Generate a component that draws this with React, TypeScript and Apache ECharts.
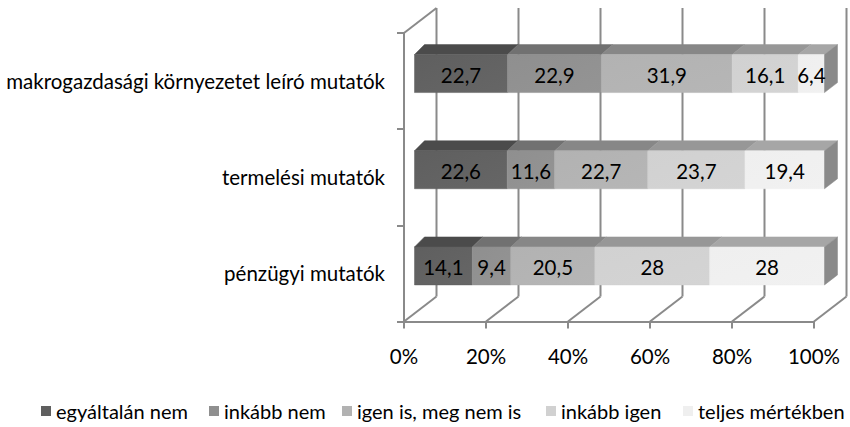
import React, { useEffect, useRef } from "react";
import * as echarts from "echarts";

const CATEGORIES = [
  "makrogazdasági környezetet leíró mutatók",
  "termelési mutatók",
  "pénzügyi mutatók",
];
const SERIES_NAMES = [
  "egyáltalán nem",
  "inkább nem",
  "igen is, meg nem is",
  "inkább igen",
  "teljes mértékben",
];
const EGYALTALAN_NEM = [22.7, 22.6, 14.1];
const INKABB_NEM = [22.9, 11.6, 9.4];
const IGEN_IS_MEG_NEM_IS = [31.9, 22.7, 20.5];
const INKABB_IGEN = [16.1, 23.7, 28];
const TELJES_MERTEKBEN = [6.4, 19.4, 28];
const X_TICKS = [0, 20, 40, 60, 80, 100];

const SERIES_VALUES = [EGYALTALAN_NEM, INKABB_NEM, IGEN_IS_MEG_NEM_IS, INKABB_IGEN, TELJES_MERTEKBEN];

const FRONT = ["#5f5f5f", "#8f8f8f", "#b2b2b2", "#d1d1d1", "#efefef"];
const FRONT2 = ["#666666", "#949494", "#b6b6b6", "#d4d4d4", "#f1f1f1"];
const TOP = ["#4b4b4b", "#717171", "#878787", "#979797", "#a6a6a6"];
const SIDE = "#8a8a8a";
const GRID_COLOR = "#8a8a8a";
const FONT = "Lato";
const FS = 20.5;
const LEGEND_FS = 20;

const LEGEND_LEFT = [41, 209, 342, 546, 683];

// 3D frame offsets
const DX = 32.5;
const DY = -25;
// bar front-face offset from front plane
const BX = 10.5;
const BY = -7.5;
const BAR_DY = -10;

const fmt = (v: number) => String(v).replace(".", ",");

export default function App() {
  const ref = useRef<HTMLDivElement>(null);
  useEffect(() => {
    if (!ref.current) return;
    const chart = echarts.init(ref.current, undefined, { renderer: "svg" });

    const cumulative: number[][] = CATEGORIES.map(() => [0]);
    SERIES_VALUES.forEach((vals) => {
      vals.forEach((v, ci) => {
        const arr = cumulative[ci];
        arr.push(arr[arr.length - 1] + v);
      });
    });

    const barSeries = SERIES_NAMES.map((name, si) => ({
      type: "custom",
      name,
      z: 3,
      itemStyle: { color: FRONT[si] },
      encode: { x: [0, 1], y: 2 },
      data: SERIES_VALUES[si].map((v, ci) => [cumulative[ci][si], cumulative[ci][si + 1], ci, v]),
      renderItem: (params: any, api: any) => {
        const start = api.value(0);
        const end = api.value(1);
        const cat = api.value(2);
        const val = api.value(3);
        const a = api.coord([start, cat]);
        const b = api.coord([end, cat]);
        const band = api.size([0, 1])[1];
        const rect = params.coordSys;
        const h = band * 0.395;
        const x0 = a[0] + BX;
        const x1 = b[0] + BX;
        const yc = a[1] + BY;
        const y0 = yc - h / 2;
        const y1 = yc + h / 2;
        const depth = (x: number) => 10 + (3 * (x - (rect.x + BX))) / rect.width;
        const d0 = depth(x0);
        const d1 = depth(x1);
        const children: any[] = [
          {
            type: "polygon",
            shape: { points: [[x0, y0], [x1, y0], [x1 + d1, y0 + BAR_DY], [x0 + d0, y0 + BAR_DY]] },
            style: { fill: TOP[si], stroke: TOP[si], lineWidth: 0.5 },
          },
          {
            type: "rect",
            shape: { x: x0, y: y0, width: x1 - x0, height: y1 - y0 },
            style: {
              fill: new echarts.graphic.LinearGradient(0, 0, 1, 1, [
                { offset: 0, color: FRONT[si] },
                { offset: 1, color: FRONT2[si] },
              ]),
              stroke: FRONT[si],
              lineWidth: 0.5,
            },
          },
        ];
        if (si === SERIES_NAMES.length - 1) {
          children.push({
            type: "polygon",
            shape: { points: [[x1, y0], [x1 + d1, y0 + BAR_DY], [x1 + d1, y1 + BAR_DY], [x1, y1]] },
            style: { fill: SIDE, stroke: SIDE, lineWidth: 0.5 },
          });
        }
        children.push({
          type: "text",
          style: {
            text: fmt(val),
            x: (x0 + x1) / 2,
            y: yc + 1,
            align: "center",
            verticalAlign: "middle",
            fill: "#000",
            fontSize: FS,
            fontFamily: FONT,
          },
        });
        return { type: "group", children };
      },
    }));

    const frameSeries = {
      type: "custom",
      name: "frame",
      z: 1,
      silent: true,
      encode: { x: 0, y: 1 },
      data: X_TICKS.map((v) => [v, 0]),
      renderItem: (params: any, api: any) => {
        const v = api.value(0);
        const rect = params.coordSys;
        const p = api.coord([v, 0]);
        const fx = p[0];
        const top = rect.y;
        const bot = rect.y + rect.height;
        const st = { stroke: GRID_COLOR, lineWidth: 2 };
        const children: any[] = [
          { type: "line", shape: { x1: fx + DX, y1: top + DY, x2: fx + DX, y2: bot + DY }, style: st },
          { type: "line", shape: { x1: fx, y1: bot, x2: fx + DX, y2: bot + DY }, style: st },
        ];
        if (v === X_TICKS[0]) {
          children.push({ type: "line", shape: { x1: fx, y1: top, x2: fx + DX, y2: top + DY }, style: st });
        }
        return { type: "group", children };
      },
    };

    chart.setOption({
      animation: false,
      textStyle: { fontFamily: FONT },
      grid: { left: 404, top: 33, width: 410, height: 288.5, containLabel: false },
      xAxis: {
        type: "value",
        min: 0,
        max: 100,
        interval: 20,
        axisLine: { show: true, lineStyle: { color: GRID_COLOR, width: 2 } },
        axisTick: { show: true, length: 7, lineStyle: { color: GRID_COLOR, width: 2 } },
        splitLine: { show: false },
        axisLabel: { formatter: "{value}%", color: "#000", fontSize: FS, fontFamily: FONT, margin: 24 },
      },
      yAxis: {
        type: "category",
        inverse: true,
        data: CATEGORIES,
        axisLine: { show: true, lineStyle: { color: GRID_COLOR, width: 2 } },
        axisTick: { show: true, length: 7, lineStyle: { color: GRID_COLOR, width: 2 } },
        splitLine: { show: false },
        axisLabel: { color: "#000", fontSize: FS, fontFamily: FONT, margin: 19 },
      },
      legend: SERIES_NAMES.map((name, i) => ({
        data: [name],
        left: LEGEND_LEFT[i],
        top: 401,
        icon: "rect",
        itemWidth: 10,
        itemHeight: 10,
        itemGap: 0,
        padding: 0,
        selectedMode: false,
        textStyle: { color: "#000", fontSize: LEGEND_FS, fontFamily: FONT },
      })),
      series: [frameSeries, ...barSeries],
    });
    return () => chart.dispose();
  }, []);
  return (
    <div
      ref={ref}
      style={{ position: "fixed", left: 0, top: 0, width: 850, height: 427, background: "#fff" }}
    />
  );
}
